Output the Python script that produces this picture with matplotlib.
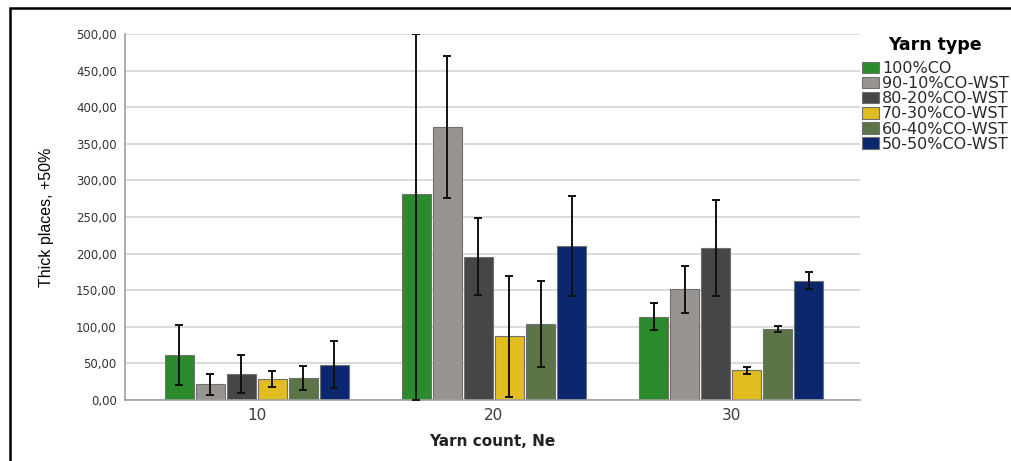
import numpy as np
import matplotlib.pyplot as plt
from matplotlib.patches import Rectangle

plt.rcParams['font.family'] = ['DejaVu Sans']

# Yarn counts (Ne) and yarn blends
counts = ["10", "20", "30"]
yarn_types = ["100%CO", "90-10%CO-WST", "80-20%CO-WST",
              "70-30%CO-WST", "60-40%CO-WST", "50-50%CO-WST"]
colors = ["#2b8a2b", "#989492", "#454647", "#e2bd1f", "#5b7448", "#0b2770"]

# Mean thick places (+50%) per yarn type, one value per yarn count
means = [
    [62.0, 281.0, 114.0],
    [21.5, 373.0, 151.5],
    [35.0, 196.0, 207.5],
    [28.5, 87.0, 40.5],
    [29.5, 104.0, 97.0],
    [48.0, 210.0, 163.0],
]
# Error bar extents below / above the mean
err_low = [
    [41.0, 281.0, 19.0],
    [14.0, 96.5, 32.0],
    [26.0, 52.0, 65.5],
    [11.0, 83.0, 5.0],
    [16.5, 59.0, 4.0],
    [32.0, 68.5, 12.0],
]
err_high = [
    [41.0, 219.0, 19.0],
    [14.0, 96.5, 32.0],
    [26.0, 52.0, 65.5],
    [11.0, 83.0, 5.0],
    [16.5, 59.0, 4.0],
    [32.0, 68.5, 12.0],
]

fig = plt.figure(figsize=(10.11, 4.61), dpi=100)
ax = fig.add_axes([0.1236, 0.1323, 0.727, 0.794])

x = np.arange(len(counts))
pitch = 0.1308
width = 0.122
for i, name in enumerate(yarn_types):
    pos = x + (i - 2.5) * pitch
    ax.bar(pos, means[i], width, color=colors[i], edgecolor="#707070",
           linewidth=0.8, label=name, zorder=2)
    ax.errorbar(pos, means[i], yerr=[err_low[i], err_high[i]], fmt="none",
                ecolor="#111111", elinewidth=1.4, capsize=2.8, capthick=1.4,
                zorder=3)

ax.set_xlim(-0.557, 2.544)
ax.set_ylim(0, 500)
ax.set_yticks(np.arange(0, 501, 50))
ax.set_yticklabels([f"{v:.2f}".replace(".", ",") for v in range(0, 501, 50)],
                   fontsize=8.5, color="#333333")
ax.set_xticks(x)
ax.set_xticklabels(counts, fontsize=11, color="#3a3a3a")
ax.tick_params(length=0, pad=6)
ax.tick_params(axis="x", pad=6)

ax.yaxis.grid(True, color="#d4d4d4", linewidth=1.2, zorder=0)
ax.set_axisbelow(True)
for side in ["top", "right"]:
    ax.spines[side].set_visible(False)
ax.spines["left"].set_color("#a0a0a0")
ax.spines["bottom"].set_color("#a0a0a0")
ax.spines["left"].set_linewidth(1.2)
ax.spines["bottom"].set_linewidth(1.2)

ax.set_ylabel("Thick places, +50%", fontsize=11.5, family="Liberation Sans",
              color="#000000", labelpad=16)
ax.set_xlabel("Yarn count, Ne", fontsize=11, fontweight="bold",
              color="#222222", labelpad=8)

handles, labels = ax.get_legend_handles_labels()
leg = fig.legend(handles, labels, loc="upper left",
                 bbox_to_anchor=(862 / 1011, 1 - 36 / 461),
                 frameon=False, fontsize=11.5, title="Yarn type",
                 title_fontproperties={"weight": "bold", "size": 12.5},
                 handlelength=1.05, handleheight=0.72, handletextpad=0.2,
                 labelspacing=0.01, borderpad=0, borderaxespad=0)
leg._legend_box.sep = 5
for t in leg.get_texts():
    t.set_color("#2a2a2a")

# outer frame
fig.patches.append(Rectangle((10 / 1011, -0.05), 1.1, 1.05 - 8 / 461,
                             transform=fig.transFigure, fill=False,
                             edgecolor="black", linewidth=1.8))

fig.savefig("out.png", dpi=100)
